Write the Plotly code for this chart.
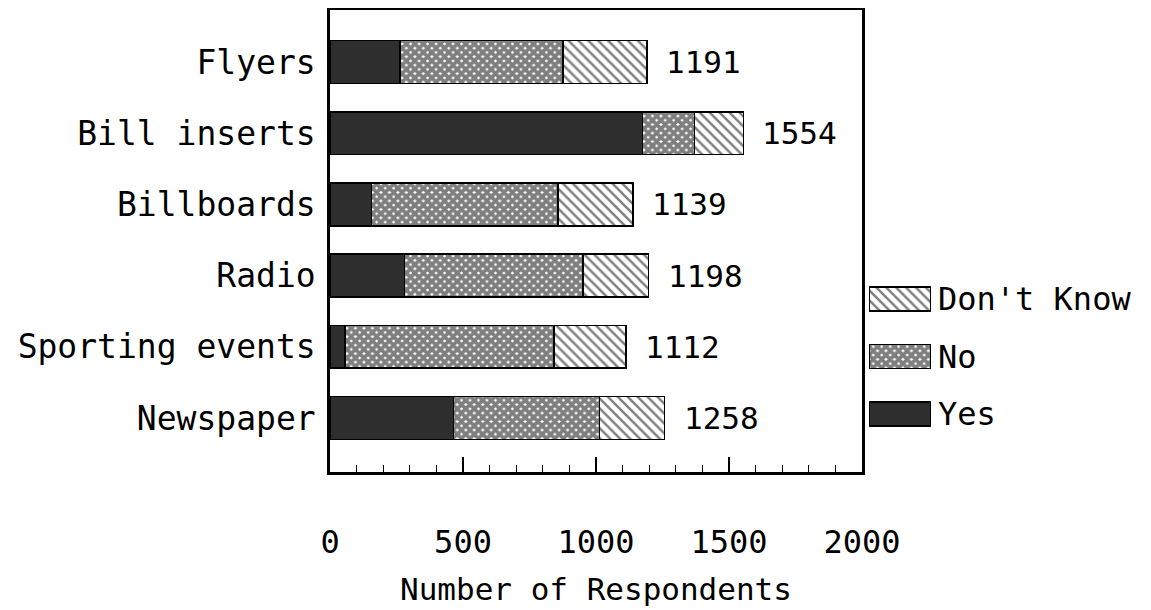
import plotly.graph_objects as go

# ---- data (top-to-bottom order as shown) ----
categories = ["Flyers", "Bill inserts", "Billboards", "Radio", "Sporting events", "Newspaper"]
yes_vals = [264, 1174, 156, 280, 57, 464]
no_vals = [611, 196, 701, 672, 786, 549]
dk_vals = [316, 184, 282, 246, 269, 245]
totals = [1191, 1554, 1139, 1198, 1112, 1258]
x_ticks = [0, 500, 1000, 1500, 2000]
legend_names = ["Yes", "No", "Don't Know"]
x_title = "Number of Respondents"

FONT = "DejaVu Sans Mono"
OFF = 8  # page body margin
W, H = 1151 - OFF, 610 - OFF
ML, MT = 330 - OFF, 10 - OFF
MR = 10
PLOT_BOTTOM = 472 - OFF
MB = H - PLOT_BOTTOM
plot_w = W - ML - MR
plot_h = H - MT - MB
main_right = 532 / plot_w

line = dict(color="black", width=1.5)
yes_marker = dict(color="#2e2e2e", line=line)
no_marker = dict(color="white", line=line,
                 pattern=dict(shape="x", fgcolor="black", bgcolor="white", size=6, solidity=0.85))
dk_marker = dict(color="white", line=line,
                 pattern=dict(shape="\\", fgcolor="black", bgcolor="white", size=7, solidity=0.35))

fig = go.Figure()
fig.add_trace(go.Bar(y=categories, x=yes_vals, orientation="h", name="Yes",
                     marker=yes_marker, width=0.6, showlegend=False))
fig.add_trace(go.Bar(y=categories, x=no_vals, orientation="h", name="No",
                     marker=no_marker, width=0.6, showlegend=False))
fig.add_trace(go.Bar(y=categories, x=dk_vals, orientation="h", name="Don't Know",
                     marker=dk_marker, width=0.6, showlegend=False))

# total labels
for c, t in zip(categories, totals):
    fig.add_annotation(x=t, y=c, xref="x", yref="y", text=str(t), showarrow=False,
                       xanchor="left", xshift=17, font=dict(family=FONT, size=31, color="black"))

# axis title
fig.add_annotation(x=main_right / 2, y=(472 - 589) / plot_h, xref="paper", yref="paper",
                   text=x_title, showarrow=False, xanchor="center", yanchor="middle",
                   font=dict(family=FONT, size=31, color="black"))

# custom legend swatches on a secondary axis
for name, mk in zip(legend_names, [yes_marker, no_marker, dk_marker]):
    fig.add_trace(go.Bar(y=[name], x=[1], orientation="h", marker=mk, width=0.417,
                         xaxis="x2", yaxis="y2", showlegend=False, hoverinfo="skip"))

# y range: category index 0 (Flyers) at top
y_top = -0.730
y_bot = 5.758

lx0 = (869 - 330) / plot_w
lx1 = (931 - 330) / plot_w
ly0 = (472 - 442.75) / plot_h
ly1 = (472 - 270.25) / plot_h

fig.update_layout(
    width=W, height=H,
    margin=dict(l=ML, r=MR, t=MT, b=MB),
    barmode="stack",
    plot_bgcolor="white", paper_bgcolor="white",
    font=dict(family=FONT, color="black"),
    xaxis=dict(domain=[0, main_right], range=[0, 2000], tickvals=x_ticks,
               ticktext=[str(v) for v in x_ticks], automargin=False,
               showgrid=False, zeroline=False,
               showline=True, linecolor="black", linewidth=2.5, mirror=True,
               ticks="inside", ticklen=15, tickwidth=1.5, tickcolor="black",
               minor=dict(dtick=100, ticks="inside", ticklen=7, tickwidth=1.3,
                          tickcolor="black", showgrid=False),
               tickfont=dict(family=FONT, size=32),
               ticklabelstandoff=40),
    yaxis=dict(categoryorder="array", categoryarray=categories, range=[y_bot, y_top],
               automargin=False, showgrid=False, zeroline=False,
               showline=True, linecolor="black", linewidth=2.5, mirror=True,
               ticks="", tickfont=dict(family=FONT, size=33), ticklabelstandoff=5),
    xaxis2=dict(domain=[lx0, lx1], range=[0, 1], visible=False, anchor="y2",
                fixedrange=True, automargin=False),
    yaxis2=dict(domain=[ly0, ly1], anchor="x2", side="right", automargin=False,
                categoryorder="array", categoryarray=legend_names, range=[-0.5, 2.5],
                showgrid=False, zeroline=False, showline=False, ticks="",
                tickfont=dict(family=FONT, size=32), ticklabelstandoff=6),
)

fig.write_html("out.html")
